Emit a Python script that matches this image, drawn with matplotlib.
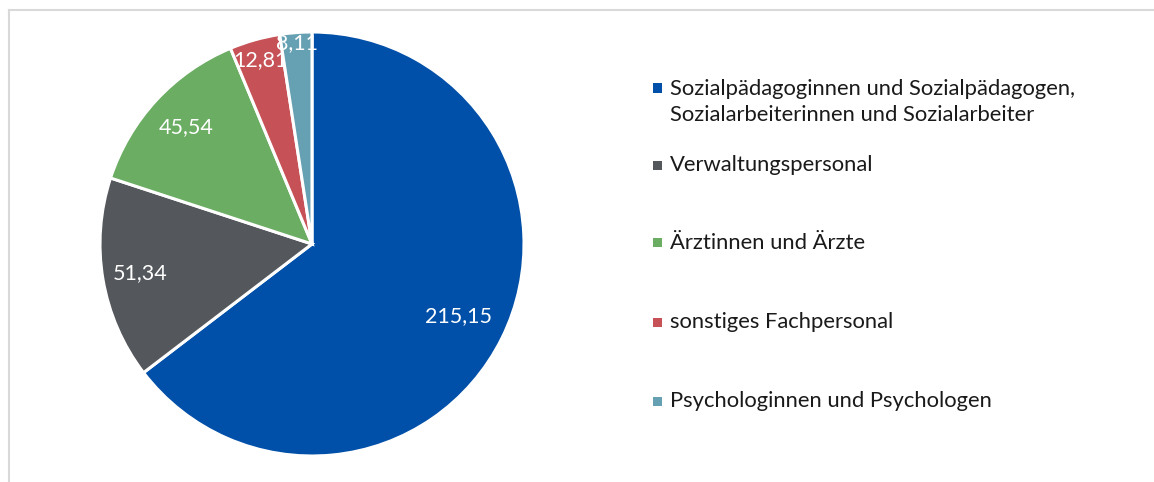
import matplotlib
matplotlib.use("Agg")
import matplotlib.pyplot as plt
from matplotlib.patches import Rectangle
import numpy as np

categories = [
    "Sozialpädagoginnen und Sozialpädagogen,\nSozialarbeiterinnen und Sozialarbeiter",
    "Verwaltungspersonal",
    "Ärztinnen und Ärzte",
    "sonstiges Fachpersonal",
    "Psychologinnen und Psychologen",
]
values = [215.15, 51.34, 45.54, 12.81, 8.11]
value_labels = ["215,15", "51,34", "45,54", "12,81", "8,11"]
colors = ["#004FA8", "#54575B", "#6BAD62", "#C65156", "#65A0B3"]

label_radius = [0.77, 0.82, 0.81, 0.90, 0.95]

plt.rcParams['font.family'] = ['Lato', 'DejaVu Sans']

W, H = 1154, 482
fig = plt.figure(figsize=(W / 100, H / 100), dpi=100)

# frame
fig.add_artist(plt.Line2D([8.5 / W, 8.5 / W], [0, 1 - 9.5 / H], transform=fig.transFigure,
                          color="#D9D9D9", lw=1.5))
fig.add_artist(plt.Line2D([8.5 / W, 1], [1 - 9.5 / H, 1 - 9.5 / H], transform=fig.transFigure,
                          color="#D9D9D9", lw=1.5))

cx, cy, R = 312, 244, 212
ax = fig.add_axes([(cx - R) / W, (H - cy - R) / H, 2 * R / W, 2 * R / H])
wedges, _ = ax.pie(values, colors=colors, startangle=90, counterclock=False,
                   radius=1.0, wedgeprops=dict(edgecolor="white", linewidth=2.2))
ax.set_xlim(-1, 1)
ax.set_ylim(-1, 1)
ax.set_aspect("equal")
ax.axis("off")

total = sum(values)
start = 90.0
for v, lab, r in zip(values, value_labels, label_radius):
    span = v / total * 360
    mid = np.deg2rad(start - span / 2)
    ax.text(r * np.cos(mid), r * np.sin(mid), lab, color="white", fontsize=15.5,
            ha="center", va="center")
    start -= span

# legend
legend_y = [102, 165, 243, 322, 401]
for cat, col, y in zip(categories, colors, legend_y):
    nlines = cat.count("\n") + 1
    top_line_y = y - (nlines - 1) * 14
    fig.add_artist(Rectangle(((653) / W, 1 - (top_line_y + 4.5) / H), 9 / W, 9 / H,
                             transform=fig.transFigure, facecolor=col, edgecolor="none"))
    fig.text(670 / W, 1 - y / H, cat, fontsize=15.8, color="#1a1a1a", ha="left", va="center",
             linespacing=1.35)

fig.savefig("out.png", dpi=100)
